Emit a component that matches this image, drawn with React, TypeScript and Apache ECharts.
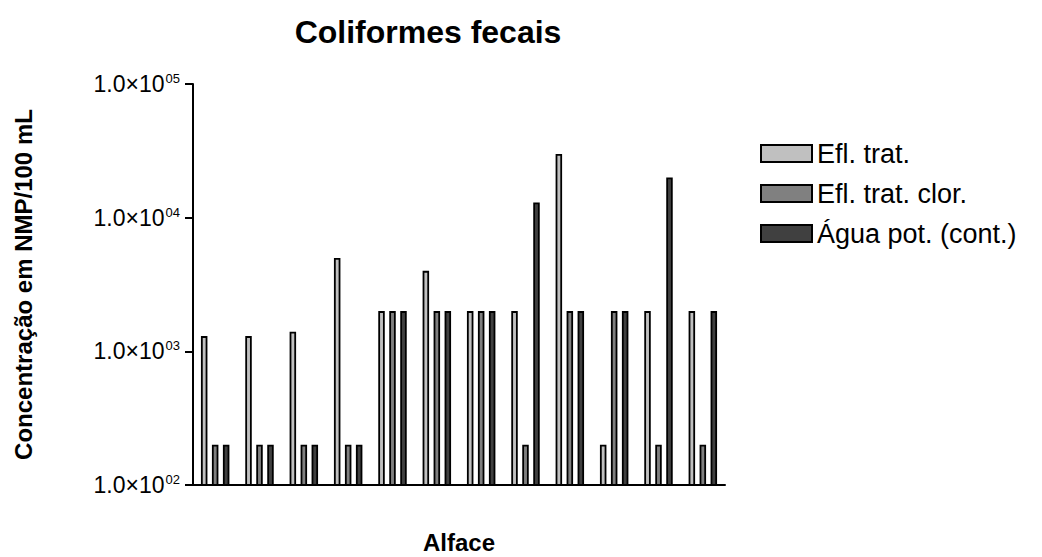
import React, { useEffect, useRef } from "react";
import * as echarts from "echarts";

const categories = ["1", "2", "3", "4", "5", "6", "7", "8", "9", "10", "11", "12"];
const eflTrat = [1300, 1300, 1400, 5000, 2000, 4000, 2000, 2000, 30000, 200, 2000, 2000];
const eflTratClor = [200, 200, 200, 200, 2000, 2000, 2000, 200, 2000, 2000, 200, 200];
const aguaPot = [200, 200, 200, 200, 2000, 2000, 2000, 13000, 2000, 2000, 20000, 2000];
const seriesNames = ["Efl. trat.", "Efl. trat. clor.", "Água pot. (cont.)"];
const seriesColors = ["#c0c0c0", "#808080", "#404040"];

const FONT = "Liberation Sans, Arial, sans-serif";

export default function App() {
  const ref = useRef<HTMLDivElement>(null);
  useEffect(() => {
    if (!ref.current) return;
    const chart = echarts.init(ref.current, null, { renderer: "svg" });
    const data = [eflTrat, eflTratClor, aguaPot];
    chart.setOption({
      animation: false,
      textStyle: { fontFamily: FONT, color: "#000" },
      title: {
        text: "Coliformes fecais",
        left: 428,
        textAlign: "center",
        top: 16,
        padding: 0,
        textStyle: { fontFamily: FONT, fontSize: 32, fontWeight: "bold", color: "#000" },
      },
      legend: {
        orient: "vertical",
        left: 760,
        top: 140,
        padding: 0,
        itemWidth: 51,
        itemHeight: 17,
        itemGap: 13,
        icon: "rect",
        textStyle: { fontFamily: FONT, fontSize: 27, color: "#000" },
        itemStyle: { borderColor: "#000", borderWidth: 2 },
        data: seriesNames,
      },
      grid: { left: 193, right: 317, top: 84, bottom: 72, containLabel: false, outerBoundsMode: "none" },
      xAxis: {
        type: "category",
        data: categories,
        name: "Alface",
        nameLocation: "middle",
        nameGap: 45,
        nameTextStyle: { fontFamily: FONT, fontSize: 24, fontWeight: "bold", color: "#000" },
        axisLine: { lineStyle: { color: "#000", width: 2 } },
        axisTick: { show: false },
        axisLabel: { show: false },
        splitLine: { show: false },
      },
      yAxis: {
        type: "log",
        logBase: 10,
        min: 100,
        max: 100000,
        name: "Concentração em NMP/100 mL",
        nameLocation: "middle",
        nameGap: 158,
        nameRotate: 90,
        nameTextStyle: { fontFamily: FONT, fontSize: 24, fontWeight: "bold", color: "#000" },
        axisLine: { show: true, lineStyle: { color: "#000", width: 2 } },
        axisTick: { show: true, length: 8, lineStyle: { color: "#000", width: 2 } },
        splitLine: { show: false },
        minorTick: { show: false },
        axisLabel: {
          margin: 13,
          formatter: (v: number) => {
            const e = Math.round(Math.log10(v));
            return `{b|1.0×10}{s|${String(e).padStart(2, "0")}}`;
          },
          rich: {
            b: { fontFamily: FONT, fontSize: 23, color: "#000", lineHeight: 24 },
            s: { fontFamily: FONT, fontSize: 13, color: "#000", verticalAlign: "top", lineHeight: 24, padding: [0, 0, 12, 1] },
          },
        },
      },
      series: seriesNames.map((name, i) => ({
        name,
        type: "bar",
        data: data[i],
        barWidth: 6.5,
        barGap: "69%",
        itemStyle: { color: seriesColors[i], borderColor: "#000", borderWidth: 1.8 },
      })),
    });
    return () => chart.dispose();
  }, []);
  return <div ref={ref} style={{ width: 1042, height: 557, position: "absolute", left: 0, top: 0 }} />;
}
